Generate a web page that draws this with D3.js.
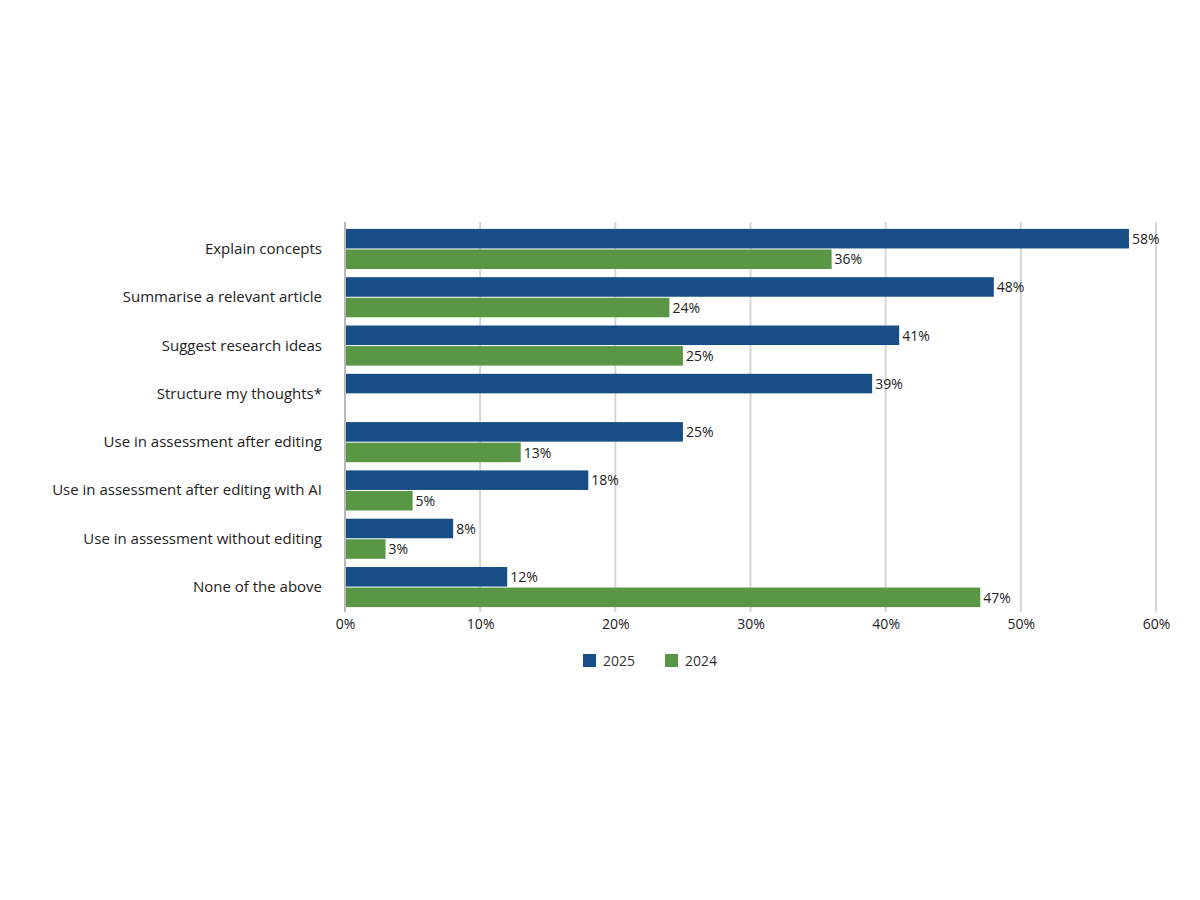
<!DOCTYPE html>
<html><head><meta charset="utf-8">
<script src="https://cdn.jsdelivr.net/npm/d3@7"></script>
<style>body{margin:0;background:#fff}svg{font-family:"Open Sans",sans-serif}</style>
</head><body><svg id="c" width="1200" height="900"></svg>
<script>
const categories=["Explain concepts","Summarise a relevant article","Suggest research ideas","Structure my thoughts*","Use in assessment after editing","Use in assessment after editing with AI","Use in assessment without editing","None of the above"];
const values2025=[58,48,41,39,25,18,8,12];
const values2024=[36,24,25,null,13,5,3,47];
const tickValues=[0,10,20,30,40,50,60];
const seriesNames=["2025","2024"];
const colors=["#174e86","#5a9745"];

const svg=d3.select("#c");
const x=d3.scaleLinear().domain([0,60]).range([345,1156]);
const y=d3.scaleBand().domain(categories).range([226,610]).paddingInner(0.17).paddingOuter(0.06);
const g=svg.append("g");
g.selectAll(".grid").data(tickValues).join("line")
 .attr("x1",d=>x(d)).attr("x2",d=>x(d)).attr("y1",222).attr("y2",612)
 .attr("stroke",d=>d===0?"#b8b8b8":"#d6d6d6").attr("stroke-width",2);
const bh=y.bandwidth()/2;
const series=[values2025,values2024];
series.forEach((vals,si)=>{
 const data=categories.map((c,i)=>({c,v:vals[i]})).filter(d=>d.v!=null);
 g.selectAll(".b"+si).data(data).join("rect")
  .attr("x",x(0)+1).attr("y",d=>y(d.c)+si*(bh+0.5)).attr("height",bh-0.5)
  .attr("width",d=>x(d.v)-x(0)-1).attr("fill",colors[si]);
 g.selectAll(".l"+si).data(data).join("text")
  .attr("x",d=>x(d.v)+3).attr("y",d=>y(d.c)+si*(bh+0.5)+bh/2+5)
  .attr("font-size",14).attr("fill","#222").text(d=>d.v+"%");
});
g.selectAll(".cat").data(categories).join("text")
 .attr("x",322).attr("y",d=>y(d)+bh+5).attr("text-anchor","end")
 .attr("font-size",15).attr("fill","#222").text(d=>d);
const ax=svg.append("g").attr("transform","translate(0,613)")
 .call(d3.axisBottom(x).tickValues(tickValues).tickFormat(d=>d+"%").tickSize(0).tickPadding(6));
ax.select(".domain").remove();
ax.selectAll("text").attr("font-size",14).attr("fill","#222").attr("font-family","Open Sans");
const lg=svg.append("g");
const lx=[583,665];
seriesNames.forEach((n,i)=>{
 lg.append("rect").attr("x",lx[i]).attr("y",654).attr("width",13).attr("height",13).attr("fill",colors[i]);
 lg.append("text").attr("x",lx[i]+20).attr("y",666).attr("font-size",14).attr("fill","#333").text(n);
});
</script></body></html>
